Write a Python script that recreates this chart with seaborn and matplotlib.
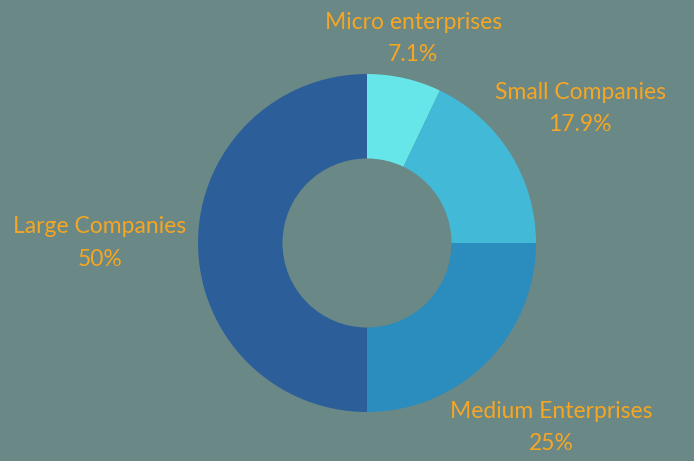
import numpy as np
import matplotlib
matplotlib.use("Agg")
import matplotlib.pyplot as plt
import seaborn as sns

categories = ["Micro enterprises", "Small Companies", "Medium Enterprises", "Large Companies"]
values = [7.1, 17.9, 25.0, 50.0]
pct_labels = ["7.1%", "17.9%", "25%", "50%"]
colors = ["#67e6ea", "#42b9d6", "#2b8cbe", "#2c5f99"]

sns.set_theme(style="white")
plt.rcParams['font.family'] = ['Lato', 'DejaVu Sans']
bg = "#6a8886"
orange = "#f5a623"

W, H = 694, 461
cx, cy, R = 367, 218, 169
fig = plt.figure(figsize=(W / 100, H / 100), dpi=100, facecolor=bg)
ax = fig.add_axes([0, 0, 1, 1])
ax.set_facecolor(bg)

palette = sns.color_palette(colors)
wedges, _ = ax.pie(values, colors=palette, startangle=90, counterclock=False,
                   radius=1.0, wedgeprops=dict(width=0.5, linewidth=0))

dists = [1.24, 1.49, 1.54, 1.58]
for w, name, pct, d in zip(wedges, categories, pct_labels, dists):
    ang = np.deg2rad((w.theta1 + w.theta2) / 2)
    x, y = d * np.cos(ang), d * np.sin(ang)
    ax.text(x, y, f"{name}\n{pct}", ha="center", va="center", color=orange,
            fontsize=16.5, linespacing=1.65)

ax.set_xlim(-cx / R, (W - cx) / R)
ax.set_ylim(-cy / R, (H - cy) / R)
ax.set_aspect("auto")
ax.axis("off")
fig.savefig("out.png", dpi=100, facecolor=bg)
